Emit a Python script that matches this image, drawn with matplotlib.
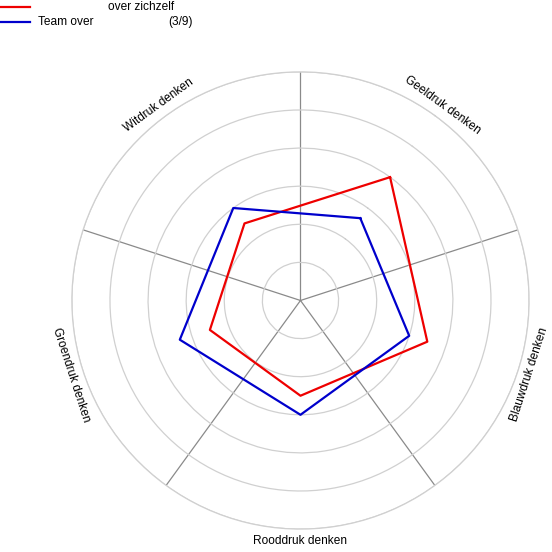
import matplotlib.pyplot as plt
import numpy as np

plt.rcParams['font.family'] = ['Liberation Sans', 'DejaVu Sans']

# data
categories = ['Geeldruk denken', 'Blauwdruk denken', 'Rooddruk denken',
              'Groendruk denken', 'Witdruk denken']
self_scores = [4.0, 3.5, 2.5, 2.5, 2.5]
team_scores = [2.67, 3.0, 3.0, 3.33, 3.0]
r_max = 6

n = len(categories)
angles = np.arange(n) * 2 * np.pi / n
bounds = angles + np.pi / n

fig = plt.figure(figsize=(5.52, 5.52), dpi=100)
ax = fig.add_axes([0.1302, 0.0415, 0.8283, 0.8283], projection='polar')
ax.set_theta_direction(-1)
ax.set_theta_offset(np.deg2rad(54))

ax.set_ylim(0, r_max)
ax.set_yticks(np.arange(1, r_max + 1))
ax.set_yticklabels([])
ax.set_xticks(bounds)
ax.set_xticklabels([])
ax.xaxis.grid(True, color='#8a8a8a', lw=0.9)
ax.yaxis.grid(True, color='#d0d0d0', lw=0.9)
ax.spines['polar'].set_color('#d0d0d0')
ax.spines['polar'].set_linewidth(0.9)
ax.tick_params(length=0)

th = np.append(angles, angles[0])
ax.plot(th, self_scores + self_scores[:1], color='#ee0000', lw=1.6, zorder=5)
ax.plot(th, team_scores + team_scores[:1], color='#0000cc', lw=1.6, zorder=5)

# category labels, tangent to the circle
for a, lab in zip(angles, categories):
    disp = (54 - np.rad2deg(a)) % 360
    rot = disp - 90
    if rot > 90:
        rot -= 180
    elif rot < -90:
        rot += 180
    ax.text(a, 6.32, lab, rotation=rot, rotation_mode='anchor',
            ha='center', va='center', fontsize=8.6)

# legend (names are blank in the original)
W = 552
fig.add_artist(plt.Line2D([0, 30 / W], [1 - 6.5 / W, 1 - 6.5 / W], color='#ee0000', lw=1.6))
fig.add_artist(plt.Line2D([1 / W, 30 / W], [1 - 22.3 / W, 1 - 22.3 / W], color='#0000cc', lw=1.6))
fig.text(108 / W, 1 - 7 / W, 'over zichzelf', fontsize=8.6, va='center')
fig.text(38 / W, 1 - 22 / W, 'Team over', fontsize=8.6, va='center')
fig.text(168 / W, 1 - 22 / W, '(3/9)', fontsize=8.6, va='center')

fig.savefig('out.png', dpi=100)
